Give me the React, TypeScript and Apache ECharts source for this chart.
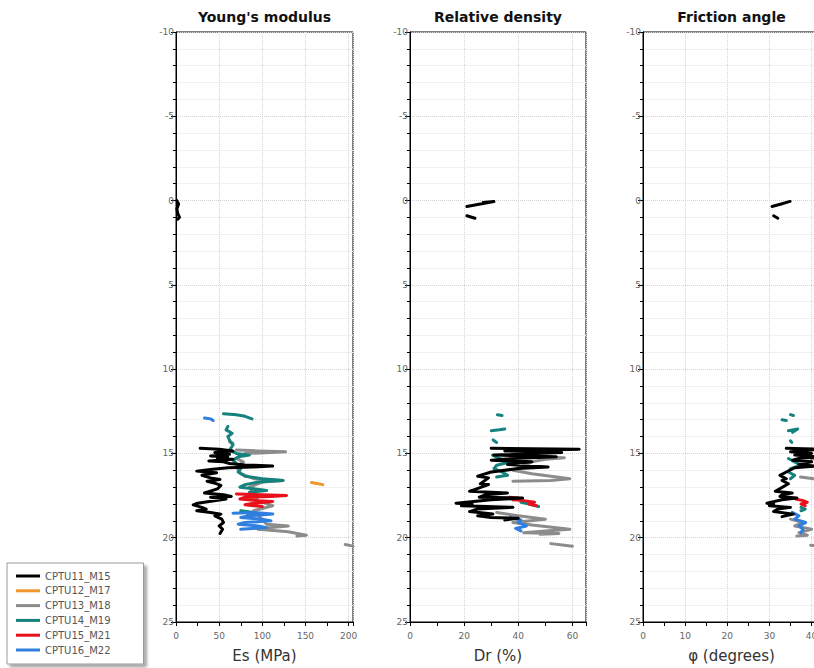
import React, { useEffect, useRef } from 'react';
import * as echarts from 'echarts';

// ---------- categories / labels ----------
const NAMES = ['CPTU11_M15', 'CPTU12_M17', 'CPTU13_M18', 'CPTU14_M19', 'CPTU15_M21', 'CPTU16_M22'];
const COLORS = ['#000000', '#f0962a', '#8c8c8c', '#15827e', '#e8101a', '#2f7fe0'];
const PANEL_TITLES = ["Young's modulus", 'Relative density', 'Friction angle'];
const AXIS_NAMES = ['Es (MPa)', 'Dr (%)', 'φ (degrees)'];
const X_MAX = [205, 65, 42];
const X_INTERVAL = [50, 20, 10];
const DEPTH_MIN = -10;
const DEPTH_MAX = 25;
const DEPTH_STEP = 5;

// ---------- data: segments of [value, depth] ----------
// Young's modulus Es (MPa)
const ES_CPTU11 = [
  [[1, 0], [3, 0.2], [1, 0.5], [2, 0.75], [4, 1.0], [2, 1.1]],
  [[28, 14.7], [50, 14.75], [66, 14.85], [45, 14.95], [62, 15.05], [40, 15.15], [60, 15.2], [48, 15.3], [66, 15.35], [38, 15.45], [55, 15.5], [62, 15.6], [80, 15.68], [112, 15.75], [90, 15.8], [60, 15.85], [40, 15.95], [24, 16.05], [35, 16.1], [47, 16.15], [30, 16.3], [40, 16.45], [51, 16.55], [36, 16.65], [44, 16.75], [52, 16.9], [48, 17.1], [33, 17.35], [55, 17.45], [64, 17.55], [40, 17.6], [58, 17.7], [25, 17.95], [20, 18.05], [30, 18.2], [35, 18.3], [24, 18.4], [40, 18.5], [52, 18.6], [45, 18.7], [53, 18.9], [55, 19.1], [50, 19.3], [54, 19.5], [51, 19.75]],
];
const ES_CPTU12 = [
  [[157, 16.72], [163, 16.78], [170, 16.85]],
];
const ES_CPTU13 = [
  [[62, 14.3], [66, 14.4]],
  [[70, 14.8], [95, 14.85], [127, 14.9], [110, 14.95], [80, 15.0], [70, 15.3], [78, 15.5], [70, 15.8], [75, 16.2], [90, 16.5], [124, 16.6], [100, 16.7], [85, 17.0], [95, 17.8], [112, 18.1], [90, 18.4], [105, 19.2], [130, 19.3], [110, 19.4], [95, 19.5], [130, 19.65], [151, 19.85], [140, 19.9]],
  [[196, 20.4], [205, 20.5]],
];
const ES_CPTU14 = [
  [[55, 12.65], [70, 12.7], [80, 12.8], [88, 12.95]],
  [[60, 13.4], [58, 13.6], [65, 13.8], [60, 14.0], [63, 14.3], [66, 14.5], [62, 14.8], [70, 15.0], [85, 15.1], [72, 15.2], [66, 15.4], [70, 15.6], [75, 15.9], [72, 16.1], [80, 16.35], [100, 16.5], [124, 16.6], [95, 16.7], [80, 16.85], [74, 17.0], [90, 17.1], [105, 17.2], [85, 17.3]],
  [[75, 18.4], [90, 18.5], [83, 18.6]],
];
const ES_CPTU15 = [
  [[70, 17.4], [100, 17.45], [128, 17.5], [110, 17.55], [80, 17.6], [74, 17.7], [95, 17.8], [112, 17.85], [90, 17.95], [80, 18.05], [100, 18.15]],
];
const ES_CPTU16 = [
  [[33, 12.9], [40, 12.95], [43, 13.05]],
  [[66, 18.55], [90, 18.5], [112, 18.6], [85, 18.7], [75, 18.8], [100, 18.9], [110, 19.0], [80, 19.1], [72, 19.2], [95, 19.3], [105, 19.4], [75, 19.5]],
];

// Relative density Dr (%)
const DR_CPTU11 = [
  [[21, 0.35], [26, 0.2], [31, 0.05], [27, 0.12]],
  [[21, 0.9], [24, 1.05]],
  [[30, 14.7], [45, 14.72], [62.5, 14.75], [50, 14.8], [35, 14.85], [56, 14.95], [40, 15.05], [31, 15.1], [54, 15.2], [38, 15.3], [30, 15.4], [45, 15.5], [36, 15.65], [51, 15.8], [40, 15.9], [30, 16.1], [25, 16.35], [29, 16.45], [26, 16.8], [29, 16.85], [22, 17.25], [36, 17.35], [28, 17.45], [25.6, 17.6], [41.6, 17.65], [30, 17.75], [17, 17.95], [23, 18.0], [19, 18.1], [38, 18.2], [25, 18.3], [22, 18.45], [30.6, 18.6], [25, 18.7], [30, 18.8], [40, 18.85], [35, 18.95]],
];
const DR_CPTU12 = [];
const DR_CPTU13 = [
  [[43, 15.2], [57, 15.25], [50, 15.35], [45, 15.5], [38, 16.0], [45, 16.2], [59, 16.5], [52, 16.6], [38, 16.65]],
  [[32, 18.5], [40, 18.7], [50, 18.9], [38, 19.1], [45, 19.25], [59, 19.5], [50, 19.6], [42, 19.7], [55, 19.75], [48, 19.8]],
  [[52, 20.35], [57, 20.45], [60, 20.5]],
];
const DR_CPTU14 = [
  [[32.3, 12.7], [34, 12.75]],
  [[30, 13.65], [33, 13.6], [35, 13.55]],
  [[30.7, 14.2], [32, 14.35]],
  [[30.5, 15.1], [33, 15.3], [37, 15.5], [32, 15.7], [31, 15.9], [34, 16.1], [36, 16.3], [32, 16.4]],
  [[41, 17.9], [44, 18.0], [47.5, 18.15]],
];
const DR_CPTU15 = [
  [[36.7, 17.6], [40, 17.65], [38, 17.75], [42, 17.8], [46, 17.9], [44, 18.0], [46.7, 18.1]],
];
const DR_CPTU16 = [
  [[37, 18.8], [41, 18.95], [40, 19.1], [43, 19.3], [39, 19.45], [41, 19.6]],
];

// Friction angle phi (degrees)
const PHI_CPTU11 = [
  [[30.6, 0.35], [32.8, 0.2], [34.9, 0.05]],
  [[31, 0.9], [32, 1.05]],
  [[34, 14.7], [38, 14.72], [42, 14.75], [38, 14.85], [35, 14.9], [40, 15.0], [36, 15.1], [42, 15.2], [37, 15.3], [35.5, 15.4], [40, 15.5], [37, 15.65], [41, 15.75], [36, 15.85], [34, 16.1], [32.5, 16.3], [34, 16.5], [33, 16.6], [34.5, 16.8], [31.4, 17.25], [35.4, 17.35], [33, 17.45], [32.5, 17.55], [36.5, 17.65], [33, 17.75], [29.4, 17.95], [31, 18.0], [30, 18.1], [35, 18.2], [32, 18.3], [31, 18.45], [35.7, 18.6], [33, 18.75]],
];
const PHI_CPTU12 = [];
const PHI_CPTU13 = [
  [[38, 15.2], [42, 15.25], [40, 15.35]],
  [[37.4, 16.4], [40.5, 16.5], [42, 16.6]],
  [[35, 18.9], [38, 19.1], [36, 19.3], [40, 19.5], [37, 19.7], [39, 19.85], [36.5, 19.9]],
  [[39.8, 20.45], [42, 20.5]],
];
const PHI_CPTU14 = [
  [[35, 12.7], [35.7, 12.75]],
  [[33, 13.0], [34, 13.05]],
  [[34.5, 13.65], [36.7, 13.55], [35.5, 13.75]],
  [[35, 14.25], [35.3, 14.35]],
  [[34.5, 15.3], [36, 15.5], [37.4, 15.7], [35, 15.9], [34.5, 16.1], [36, 16.3], [35, 16.5]],
  [[37.5, 18.2], [38.5, 18.3], [37.5, 18.4]],
];
const PHI_CPTU15 = [
  [[36.2, 17.7], [38, 17.8], [39, 17.9], [37.5, 18.0], [38.5, 18.1]],
];
const PHI_CPTU16 = [
  [[35.4, 18.5], [37, 18.7], [36, 18.9], [38.6, 19.1], [37, 19.3], [38, 19.5], [37.5, 19.7]],
];

const PANEL_DATA = [
  [ES_CPTU11, ES_CPTU12, ES_CPTU13, ES_CPTU14, ES_CPTU15, ES_CPTU16],
  [DR_CPTU11, DR_CPTU12, DR_CPTU13, DR_CPTU14, DR_CPTU15, DR_CPTU16],
  [PHI_CPTU11, PHI_CPTU12, PHI_CPTU13, PHI_CPTU14, PHI_CPTU15, PHI_CPTU16],
];

// layout
const GRID_LEFT = [176, 410, 643];
const GRID_W = [177, 176, 177];
const GRID_TOP = 32;
const GRID_H = 591;
const DRAW_ORDER = [2, 1, 3, 4, 5, 0];
const FONT = 'DejaVu Sans';

export default function App() {
  const ref = useRef<HTMLDivElement>(null);
  useEffect(() => {
    if (!ref.current) return;
    const chart = echarts.init(ref.current, undefined, { renderer: 'svg' });

    const grid = GRID_LEFT.map((l, i) => ({
      left: l, top: GRID_TOP, width: GRID_W[i], height: GRID_H,
      show: true, borderColor: '#000', borderWidth: 1, backgroundColor: 'transparent',
    }));

    const xAxis = GRID_LEFT.map((_, i) => ({
      gridIndex: i, type: 'value', min: 0, max: X_MAX[i], interval: X_INTERVAL[i],
      name: AXIS_NAMES[i], nameLocation: 'middle', nameGap: 26,
      nameTextStyle: { fontSize: 15, color: '#333', fontFamily: FONT },
      axisLine: { show: true, onZero: false, lineStyle: { color: '#000', width: 1 } },
      axisTick: { show: true, length: 4, lineStyle: { color: '#000' } },
      minorTick: { show: true, splitNumber: 2, length: 4, lineStyle: { color: '#000' } },
      axisLabel: { fontSize: 9, color: '#666', margin: 9, showMaxLabel: false, fontFamily: FONT },
      splitLine: { show: true, lineStyle: { color: '#d4d4d4', type: 'dotted', width: 1 } },
      minorSplitLine: { show: false },
    }));

    const yAxis = GRID_LEFT.map((_, i) => ({
      gridIndex: i, type: 'value', inverse: true, min: DEPTH_MIN, max: DEPTH_MAX, interval: DEPTH_STEP,
      axisLine: { show: true, onZero: false, lineStyle: { color: '#000', width: 1 } },
      axisTick: { show: true, length: 5, lineStyle: { color: '#000' } },
      minorTick: { show: true, splitNumber: 5, length: 3, lineStyle: { color: '#000' } },
      axisLabel: { fontSize: 9, color: '#666', margin: 2, fontFamily: FONT },
      splitLine: { show: true, lineStyle: { color: '#d4d4d4', type: 'dotted', width: 1 } },
      minorSplitLine: { show: true, lineStyle: { color: '#f1f1f1', width: 1 } },
    }));

    const series: any[] = [];
    PANEL_DATA.forEach((panel, p) => {
      DRAW_ORDER.forEach((s, zi) => {
        panel[s].forEach((seg) => {
          series.push({
            type: 'line', name: NAMES[s], xAxisIndex: p, yAxisIndex: p,
            data: seg, symbol: 'none', showSymbol: false, silent: true, clip: true,
            z: 2 + zi * 0.01,
            color: COLORS[s],
            lineStyle: { color: COLORS[s], width: 3, join: 'round', cap: 'round' },
            itemStyle: { color: COLORS[s] },
          });
        });
      });
    });

    const graphic = PANEL_TITLES.map((t, i) => ({
      type: 'text', x: GRID_LEFT[i] + GRID_W[i] / 2, y: 17, silent: true,
      style: { text: t, align: 'center', verticalAlign: 'middle', fontSize: 14, fontWeight: 'bold', fontFamily: FONT, fill: '#111' },
    }));

    chart.setOption({
      animation: false,
      backgroundColor: '#fff',
      grid, xAxis, yAxis, series, graphic,
      legend: {
        data: NAMES.map((n) => ({ name: n })),
        orient: 'vertical', left: 7, top: 563,
        icon: 'rect', itemWidth: 24, itemHeight: 3, itemGap: 4.8, itemTextGap: 10,
        textStyle: { fontSize: 10, color: '#555', fontFamily: FONT },
        padding: [8, 33, 9, 9],
        borderColor: '#999', borderWidth: 1, backgroundColor: '#fff',
        shadowColor: 'rgba(0,0,0,0.35)', shadowBlur: 3, shadowOffsetX: 3, shadowOffsetY: 3,
        selectedMode: false,
      },
    });
    return () => chart.dispose();
  }, []);

  return (
    <div style={{ position: 'fixed', left: 0, top: 0, width: 814, height: 668, overflow: 'hidden', background: '#fff' }}>
      <div ref={ref} style={{ width: 830, height: 668 }} />
    </div>
  );
}
